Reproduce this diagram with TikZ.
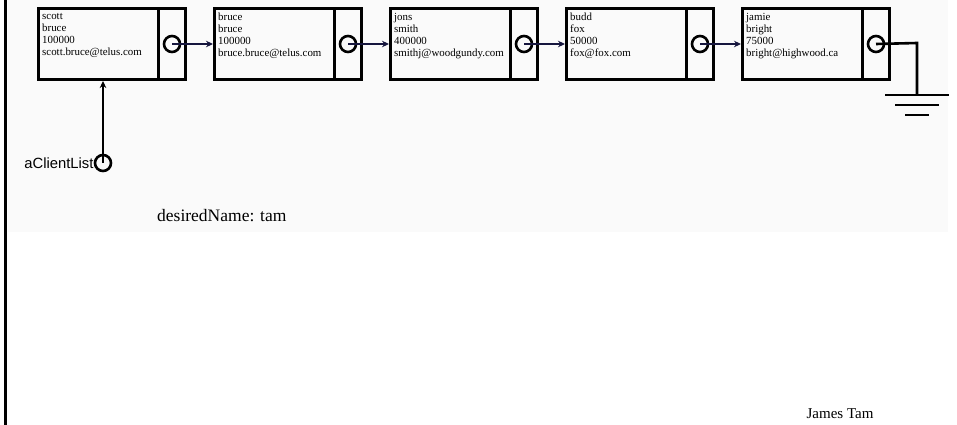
\documentclass[tikz,border=0pt]{standalone}
\usepackage{fontspec}
\setmainfont{Liberation Serif}
\newfontfamily\labelsans{Liberation Sans}
\usetikzlibrary{arrows.meta}
\definecolor{linkblue}{RGB}{22,22,62}
\definecolor{panelgray}{RGB}{250,250,250}
\begin{document}
\begin{tikzpicture}[x=1pt,y=-1pt,
  datacell/.style={draw,line width=3pt,rectangle,minimum width=120pt,minimum height=71pt,
    inner sep=0pt,anchor=north west},
  ptrcell/.style={draw,line width=3pt,rectangle,minimum width=27pt,minimum height=71pt,
    inner sep=0pt,anchor=north west},
  fields/.style={anchor=north west,align=left,inner sep=0pt,
    font=\fontsize{10.9}{12}\selectfont},
  ptrdot/.style={draw,circle,line width=2.6pt,minimum size=16pt,inner sep=0pt},
  link/.style={draw=linkblue,line width=2.4pt,-{Stealth[length=7pt,width=6.5pt]}},
  headlink/.style={draw=black,line width=2.6pt,-{Stealth[length=7pt,width=6.5pt]}},
  wire/.style={draw,line width=2.6pt}]
\useasboundingbox (0,0) rectangle (957,425);
\fill[panelgray] (8,0) rectangle (948,232);
\draw[line width=3pt] (5,0) -- (5,425);

% list nodes: data part, pointer part, pointer circle
\foreach \i/\x/\a/\b/\c/\d in {
  1/37/scott/bruce/100000/scott.bruce@telus.com,
  2/213/bruce/bruce/100000/bruce.bruce@telus.com,
  3/389/jons/smith/400000/smithj@woodgundy.com,
  4/565/budd/fox/50000/fox@fox.com,
  5/741/jamie/bright/75000/bright@highwood.ca}{
  \node[datacell] (d\i) at (\x,7) {};
  \node[ptrcell] (p\i) at (\x+120,7) {};
  \node[fields] (t\i) at (\x+5,13) {\a\\\b\\\c\\\d};
  \node[ptrdot] (c\i) at (p\i.center) {};
}

% links between list nodes
\foreach \i/\j in {1/2,2/3,3/4,4/5}{
  \draw[link] (c\i.center) -- (d\j.west);
}

% last pointer goes to ground
\coordinate (gtop) at (917,43);
\coordinate (gbase) at (917,95);
\draw[wire] (c5.center) -- (gtop) -- (gbase);
\draw[wire] (885,95) -- (949,95);
\draw[wire] (895,105) -- (939,105);
\draw[wire] (905,115) -- (929,115);

% head reference
\node[ptrdot] (head) at (103,163) {};
\node[anchor=east,inner sep=0pt,font=\labelsans\fontsize{14.8}{16}\selectfont] (headlbl) at (head.west) {aClientList};
\draw[headlink] (head.center) -- (d1.south -| head.center);

\node[anchor=base west,inner sep=0pt,font=\fontsize{17.5}{20}\selectfont] (want) at (157,221) {desiredName: tam};
\node[anchor=base,inner sep=0pt,font=\fontsize{15}{18}\selectfont] (author) at (840,418) {James Tam};
\end{tikzpicture}
\end{document}
